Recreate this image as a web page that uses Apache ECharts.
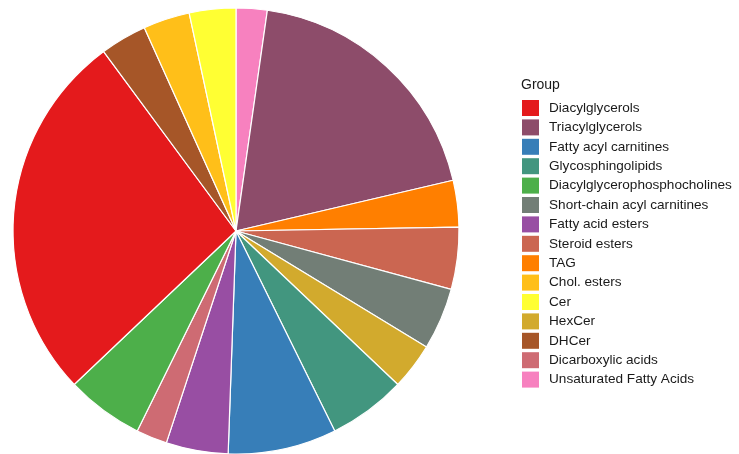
<!DOCTYPE html>
<html>
<head>
<meta charset="utf-8">
<script src="https://cdn.jsdelivr.net/npm/echarts@6/dist/echarts.min.js"></script>
<style>
  html, body { margin: 0; padding: 0; background: #ffffff; }
  #chart { width: 739px; height: 454px; }
</style>
</head>
<body>
<div id="chart"></div>
<script>
// Slice order, clockwise from 12 o'clock
const sliceGroups = [
  'Unsaturated Fatty Acids', 'Triacylglycerols', 'TAG', 'Steroid esters',
  'Short-chain acyl carnitines', 'HexCer', 'Glycosphingolipids',
  'Fatty acyl carnitines', 'Fatty acid esters', 'Dicarboxylic acids',
  'Diacylglycerophosphocholines', 'Diacylglycerols', 'DHCer', 'Chol. esters', 'Cer'
];
// Number of features per group (same order as sliceGroups)
const sliceCounts = [2, 17, 3, 4, 4, 3, 5, 7, 4, 2, 5, 24, 3, 3, 3];

// Legend order
const legendGroups = [
  'Diacylglycerols', 'Triacylglycerols', 'Fatty acyl carnitines', 'Glycosphingolipids',
  'Diacylglycerophosphocholines', 'Short-chain acyl carnitines', 'Fatty acid esters',
  'Steroid esters', 'TAG', 'Chol. esters', 'Cer', 'HexCer', 'DHCer',
  'Dicarboxylic acids', 'Unsaturated Fatty Acids'
];
// Colours, in legend order
const legendColors = [
  '#e41a1c', '#8d4c6a', '#377eb8', '#42967f', '#4daf4a', '#727e76', '#984ea3',
  '#cb6651', '#ff7f00', '#ffbf19', '#ffff33', '#d2aa2d', '#a65628', '#ce6b73', '#f781bf'
];

const colorOf = {};
legendGroups.forEach((g, i) => { colorOf[g] = legendColors[i]; });

const chart = echarts.init(document.getElementById('chart'), null, { renderer: 'canvas' });
chart.setOption({
  animation: false,
  backgroundColor: '#ffffff',
  title: {
    text: 'Group',
    left: 521,
    top: 78,
    padding: 0,
    textStyle: { fontFamily: 'Liberation Sans, Arial, sans-serif', fontSize: 14, fontWeight: 'normal', color: '#1a1a1a' }
  },
  legend: {
    orient: 'vertical',
    left: 522,
    top: 100,
    padding: 0,
    itemWidth: 17,
    itemHeight: 16,
    itemGap: 3.4,
    icon: 'rect',
    selectedMode: false,
    data: legendGroups,
    itemStyle: { borderWidth: 0 },
    textStyle: {
      fontFamily: 'Liberation Sans, Arial, sans-serif',
      fontSize: 13.6,
      lineHeight: 16,
      color: '#1a1a1a',
      padding: [0, 0, 0, 5]
    }
  },
  series: [{
    type: 'pie',
    center: [236, 231],
    radius: 223,
    startAngle: 90,
    clockwise: true,
    label: { show: false },
    labelLine: { show: false },
    emphasis: { disabled: true },
    itemStyle: { borderColor: '#ffffff', borderWidth: 1.2 },
    data: sliceGroups.map((g, i) => ({
      name: g,
      value: sliceCounts[i],
      itemStyle: { color: colorOf[g] }
    }))
  }]
});
</script>
</body>
</html>
